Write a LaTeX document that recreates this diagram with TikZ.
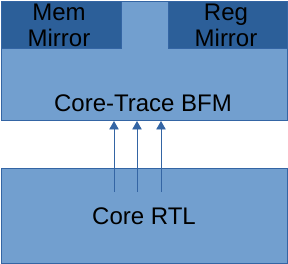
\documentclass[tikz,border=0pt]{standalone}
\usepackage{fontspec}
\setmainfont{Liberation Sans}
\usetikzlibrary{arrows.meta}
\definecolor{boxfill}{HTML}{729FCF}
\definecolor{boxline}{HTML}{3465A4}
\definecolor{mirfill}{HTML}{2C5F99}
\tikzset{
  blk/.style={draw=boxline, fill=boxfill, line width=0.8pt, inner sep=0pt},
  mir/.style={draw=boxline, fill=mirfill, line width=0.8pt, inner sep=0pt},
  lbl/.style={font=\fontsize{24}{26}\selectfont, text=black, align=center, inner sep=0pt},
  sig/.style={draw=boxline, line width=0.8pt, -{Triangle[length=8.5pt,width=9.5pt]}}
}
\begin{document}
\begin{tikzpicture}[x=1pt,y=-1pt]
\useasboundingbox (0,0) rectangle (288,264);
\path[blk] (1,1) rectangle (287,120);
\path[mir] (1,1) rectangle (121,48);
\path[mir] (168,1) rectangle (287,48);
\path[blk] (1,168) rectangle (287,263);
\node[lbl] (mem) at (59,25) {Mem\\Mirror};
\node[lbl] (reg) at (226,25) {Reg\\Mirror};
\node[lbl] (bfm) at (143,103) {Core-Trace BFM};
\node[lbl] (rtl) at (144,216) {Core RTL};
\coordinate (s1) at (114,192);
\coordinate (s2) at (137,192);
\coordinate (s3) at (161,192);
\coordinate (t1) at (114,121);
\coordinate (t2) at (137,121);
\coordinate (t3) at (161,121);
\draw[sig] (s1) -- (t1);
\draw[sig] (s2) -- (t2);
\draw[sig] (s3) -- (t3);
\end{tikzpicture}
\end{document}
